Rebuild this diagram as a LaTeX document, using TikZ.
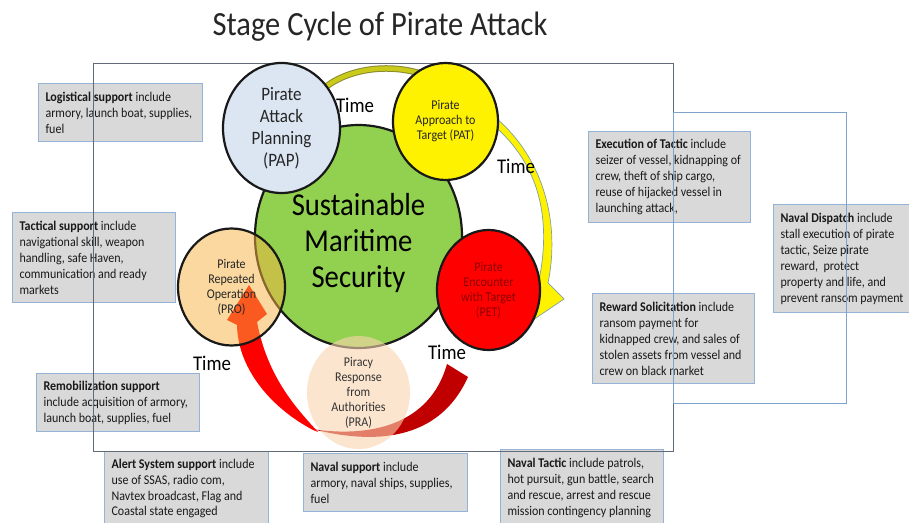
\documentclass[tikz,border=0pt]{standalone}
\usepackage{fontspec}
\setmainfont{Carlito}[FakeStretch=0.9]
\usetikzlibrary{positioning}
\usetikzlibrary{shapes.geometric}

\definecolor{smsgreen}{HTML}{92D050}
\definecolor{papblue}{HTML}{DCE6F2}
\definecolor{proorange}{HTML}{F7B341}
\definecolor{prapeach}{HTML}{FBD5B0}
\definecolor{boxfill}{HTML}{D9D9D9}
\definecolor{boxline}{HTML}{95B3D7}
\definecolor{framegrey}{HTML}{5F6B78}
\definecolor{frameblue}{HTML}{7FA3C8}
\definecolor{darkred}{HTML}{C00000}
\definecolor{pettext}{HTML}{8A0000}
\definecolor{olivebar}{HTML}{CACA1A}
\definecolor{oliveedge}{HTML}{8A8A30}
\definecolor{arcedge}{HTML}{7FA0A0}

\begin{document}
\begin{tikzpicture}[x=1bp,y=-1bp,
  info/.style={draw=boxline, fill=boxfill, line width=1.1bp, anchor=north west,
    align=flush left, inner xsep=7bp, inner ysep=0pt, text=black!90, font=\fontsize{13.4}{16}\selectfont},
  stage/.style={ellipse, draw=black!90, line width=2.2bp, inner sep=0pt, align=center},
  small/.style={font=\fontsize{13.4}{15}\selectfont},
  timelbl/.style={anchor=base, font=\fontsize{21}{24}\selectfont}]

\fill[white] (0,0) rectangle (909,523);
\useasboundingbox (0,0) rectangle (909,523);

\node (title) [anchor=base, text=black!85, font=\fontsize{34}{40}\selectfont] at (380,36) {Stage Cycle of Pirate Attack};

% support boxes
\node (logi) [info, text width=150bp, minimum height=58bp] at (38,83) {\textbf{Logistical support} include\\armory, launch boat, supplies,\\fuel};
\node (tact) [info, text width=149bp, minimum height=90bp] at (12,212) {\textbf{Tactical support} include\\navigational skill, weapon\\handling, safe Haven,\\communication and ready\\markets};
\node (remob) [info, text width=149bp, minimum height=58bp] at (36,373) {\textbf{Remobilization support}\\include acquisition of armory,\\launch boat, supplies, fuel};
\node (alert) [info, text width=150bp, minimum height=74bp] at (104,451) {\textbf{Alert System support} include\\use of SSAS, radio com,\\Navtex broadcast, Flag and\\Coastal state engaged};
\node (navsup) [info, text width=150bp, minimum height=58bp] at (303,453) {\textbf{Naval support} include\\armory, naval ships, supplies,\\fuel};
\node (navtac) [info, text width=149bp, minimum height=76bp] at (500,449) {\textbf{Naval Tactic} include patrols,\\hot pursuit, gun battle, search\\and rescue, arrest and rescue\\mission contingency planning};
\node (exec) [info, text width=148bp, minimum height=91bp] at (588,131) {\textbf{Execution of Tactic} include\\seizer of vessel, kidnapping of\\crew, theft of ship cargo,\\reuse of hijacked vessel in\\launching attack,};
\node (reward) [info, text width=148bp, minimum height=90bp] at (592,293) {\textbf{Reward Solicitation} include\\ransom payment for\\kidnapped crew, and sales of\\stolen assets from vessel and\\crew on black market};
\node (dispatch) [info, text width=140bp, minimum height=108bp] at (773,204) {\textbf{Naval Dispatch} include\\stall execution of pirate\\tactic, Seize pirate\\reward, \ protect\\property and life, and\\prevent ransom payment};

% frames
\draw[framegrey, line width=0.9bp] (93,63) rectangle (673,451);
\draw[frameblue, line width=0.9bp] (673,112) rectangle (846,403);

% time arrows
\draw[oliveedge, line width=6.5bp] (318,94) .. controls (340,70) and (385,62) .. (422,74);
\draw[olivebar, line width=4.5bp] (318,94) .. controls (340,70) and (385,62) .. (422,74);
\filldraw[fill=yellow, draw=arcedge, line width=0.7bp] (496,118) .. controls (545,160) and (560,225) .. (548,283)
  -- (564,299) -- (530,322) -- (540,275) .. controls (550,220) and (541,165) .. (492,124) -- cycle;
\fill[darkred] (447,364) -- (468,377) .. controls (445,428) and (395,450) .. (312,429)
  .. controls (370,438) and (430,425) .. (447,364) -- cycle;
\fill[red] (313,430) .. controls (275,410) and (238,372) .. (237,325) -- (227,320) -- (249,285)
  -- (267,314) -- (257,322) .. controls (268,380) and (300,412) .. (318,432) -- cycle;

% stages
\node (SMS) [stage, fill=smsgreen, minimum width=207bp, minimum height=223bp] at (358.5,236.5) {};
\node (SMSlbl) [align=center, font=\fontsize{32}{36}\selectfont] at (358.5,243) {Sustainable\\Maritime\\Security};
\node (PAP) [stage, fill=papblue, minimum width=117bp, minimum height=130bp, text=black!85, font=\fontsize{19}{22}\selectfont] at (281.5,128) {Pirate\\Attack\\Planning\\(PAP)};
\node (PAT) [stage, small, fill=yellow, minimum width=105bp, minimum height=117bp, text=black!85] at (445.5,121.5) {Pirate\\Approach to\\Target (PAT)};
\node (PET) [stage, small, fill=red, minimum width=103bp, minimum height=120bp, text=pettext] at (488.5,290) {Pirate\\Encounter\\with Target\\(PET)};
\node (PRO) [stage, small, fill=proorange, fill opacity=0.5, text opacity=1, minimum width=107bp, minimum height=117bp, text=black!85] at (231.5,287) {Pirate\\Repeated\\Operation\\(PRO)};
\node (PRA) [stage, small, draw=none, fill=prapeach, fill opacity=0.6, text opacity=1, minimum width=103bp, minimum height=113bp, text=black!80] at (358.5,392.5) {Piracy\\Response\\from\\Authorities\\(PRA)};

\node (T1) [timelbl] at (355,113) {Time};
\node (T2) [timelbl] at (516,174) {Time};
\node (T3) [timelbl] at (447,360) {Time};
\node (T4) [timelbl] at (212,370) {Time};
\end{tikzpicture}
\end{document}
